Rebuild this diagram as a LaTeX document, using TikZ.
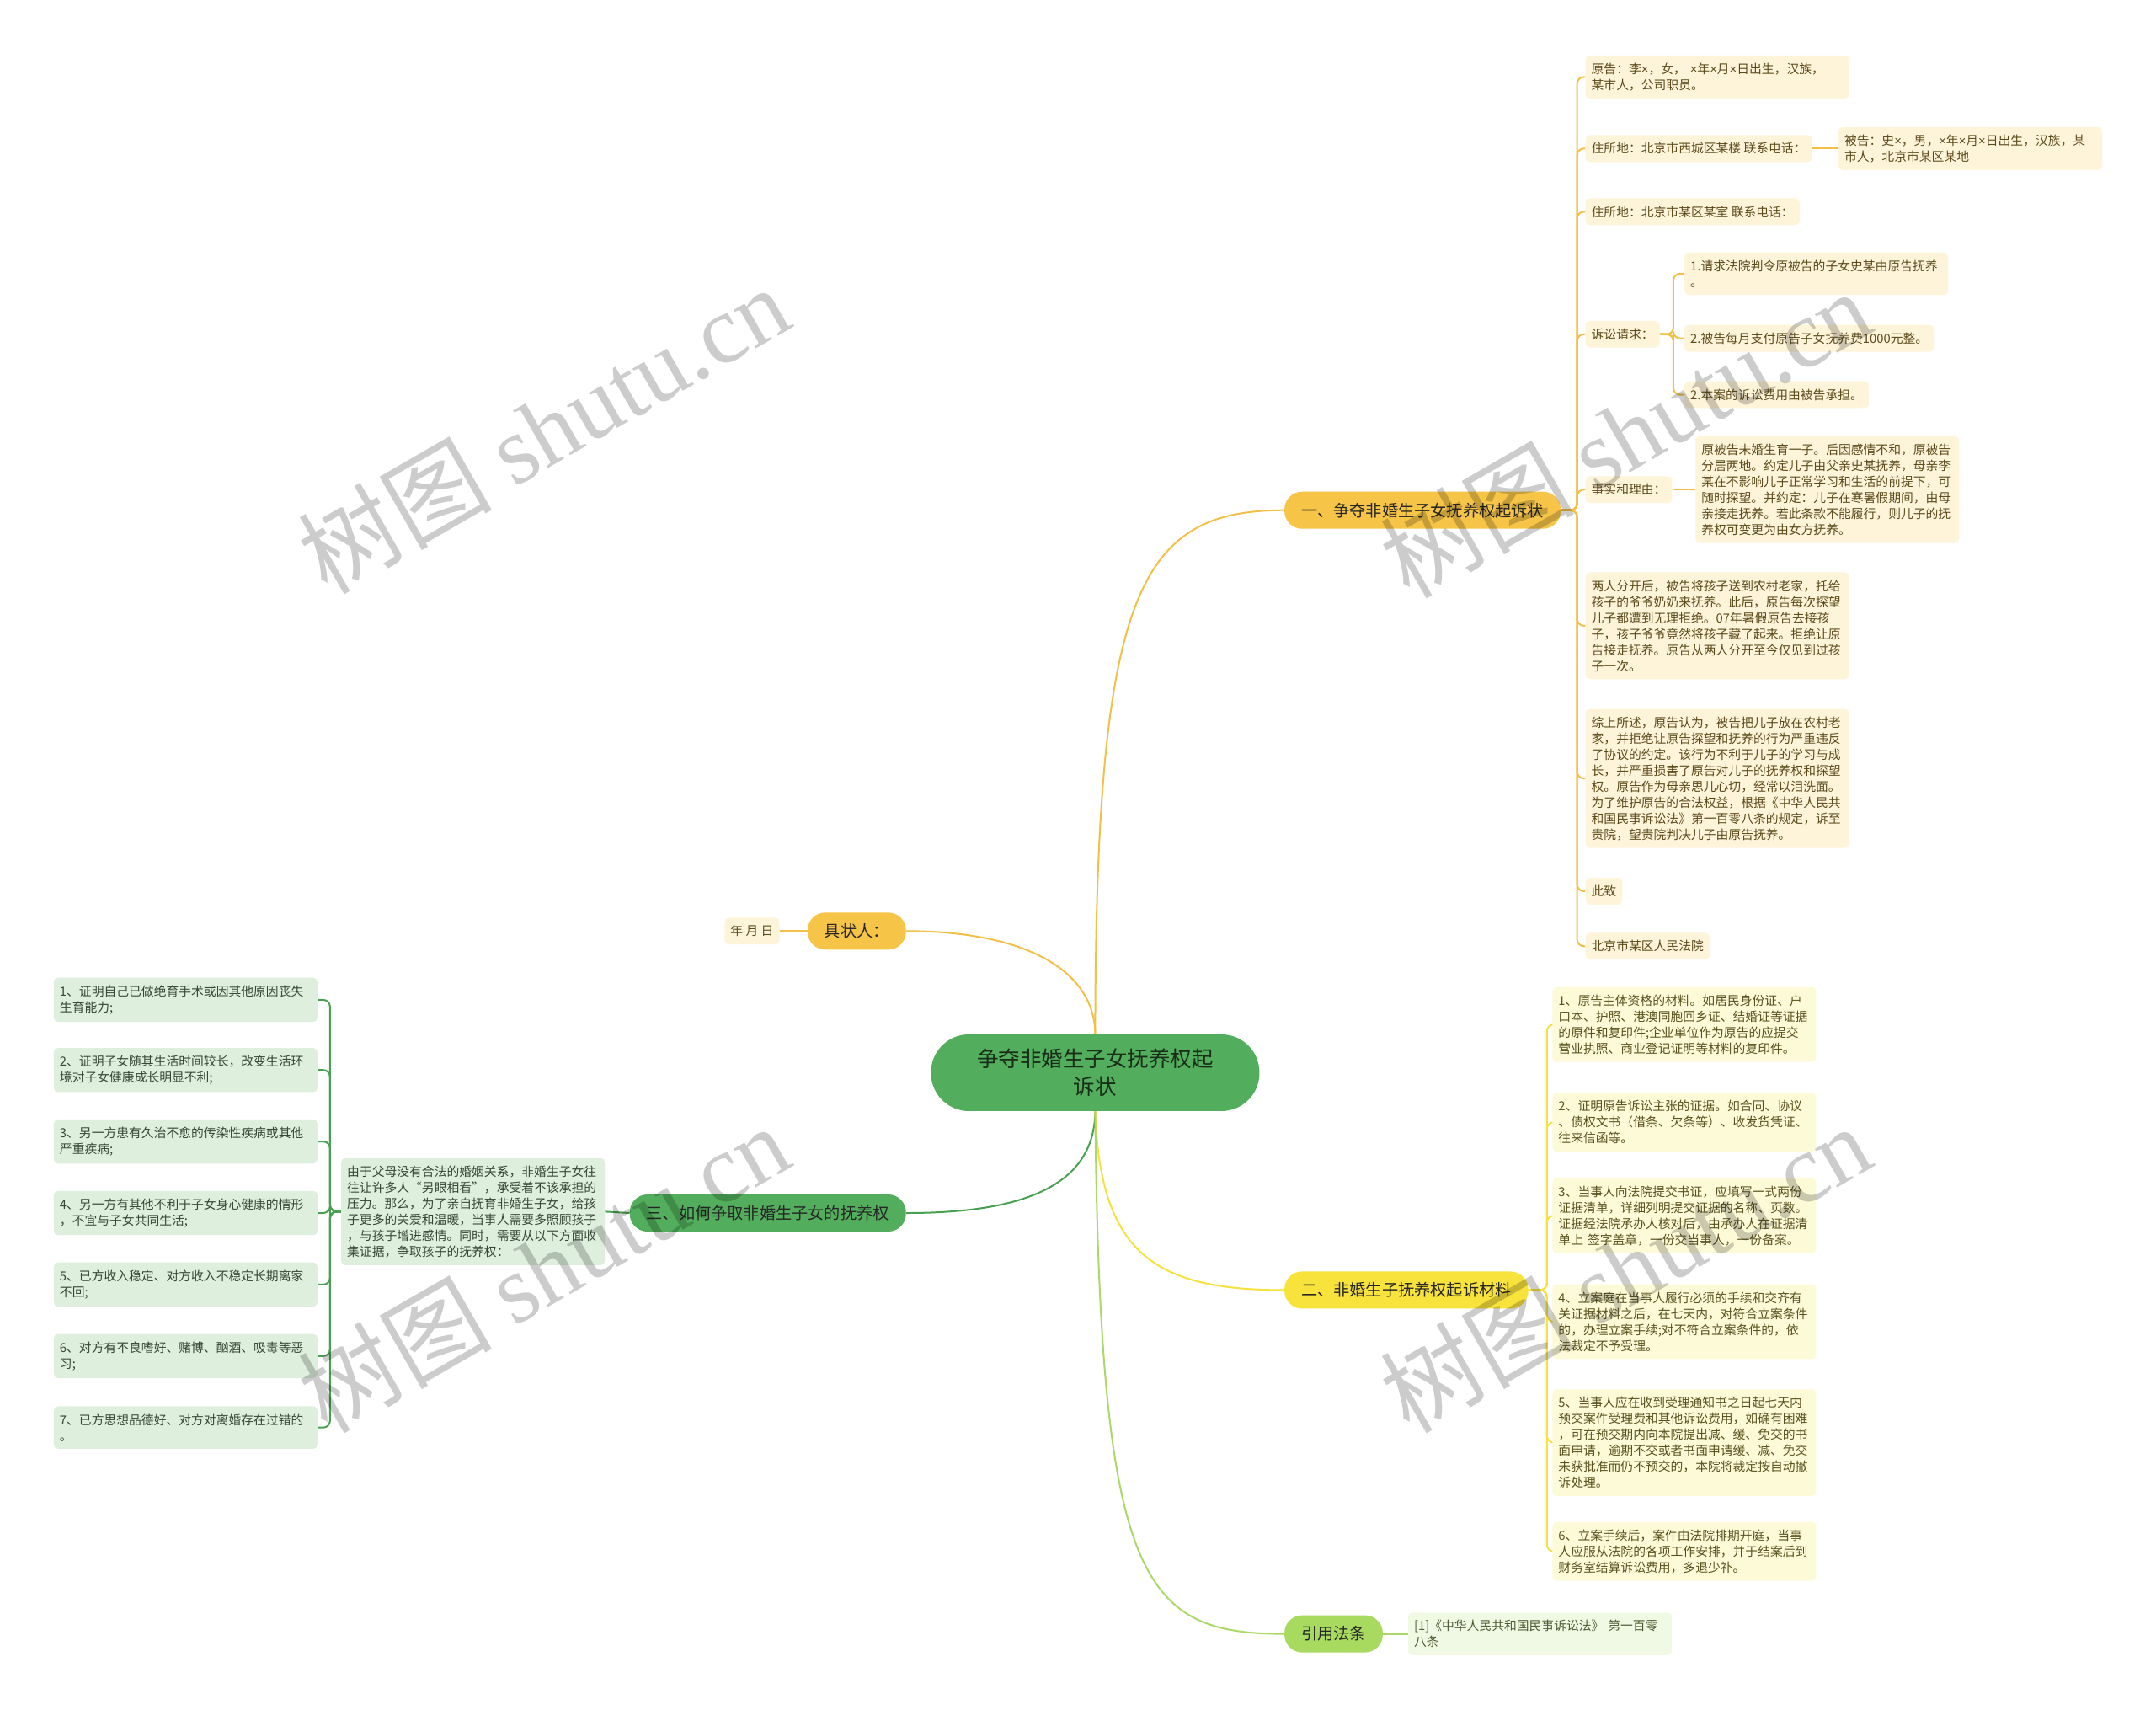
\documentclass[tikz,border=0pt]{standalone}
\usepackage{fontspec}
\setmainfont{Noto Sans CJK SC}
\newfontfamily\wmserif{Liberation Serif}
\newfontfamily\lsans{Liberation Sans}
\newcommand\tms{{\lsans ×}}
\usetikzlibrary{calc}
\pgfdeclarelayer{background}
\pgfdeclarelayer{bgfill}
\pgfsetlayers{bgfill,background,main}
\definecolor{rootg}{RGB}{82,174,92}
\definecolor{gold}{RGB}{246,196,70}
\definecolor{yel}{RGB}{248,226,60}
\definecolor{lgreen}{RGB}{168,218,96}
\definecolor{cream}{RGB}{254,244,218}
\definecolor{paley}{RGB}{253,250,216}
\definecolor{paleg}{RGB}{222,239,222}
\definecolor{palelg}{RGB}{240,249,228}
\definecolor{browntxt}{RGB}{92,74,26}
\definecolor{olivetxt}{RGB}{90,82,30}
\definecolor{greentxt}{RGB}{55,72,55}
\definecolor{lgtxt}{RGB}{75,90,50}
\definecolor{goldline}{RGB}{242,192,72}
\definecolor{yelline}{RGB}{246,226,62}
\definecolor{greenline}{RGB}{72,160,82}
\definecolor{lgline}{RGB}{172,216,104}
\tikzset{
  leaf/.style={rounded corners=5pt, inner xsep=7pt, inner ysep=9pt, align=left,
    font=\fontsize{14.8pt}{19pt}\selectfont},
  wide/.style={leaf, text width=299pt},
  yleaf/.style={fill=cream, text=browntxt},
  y2leaf/.style={fill=paley, text=olivetxt},
  gleaf/.style={fill=paleg, text=greentxt},
  lgleaf/.style={fill=palelg, text=lgtxt},
  branch/.style={rounded corners=21pt, minimum height=44pt, inner xsep=20pt,
    font=\fontsize{19.2pt}{24pt}\selectfont, text=black!85},
  conn/.style={line width=2pt, rounded corners=8pt},
}
\begin{document}
\begin{tikzpicture}[x=1.6327pt, y=-1.6327pt]
\useasboundingbox (0,0) rectangle (1568,1243);
\begin{pgfonlayer}{bgfill}
\fill[white] (0,0) rectangle (1568,1243);
\end{pgfonlayer}

% root
\node[fill=rootg, rounded corners=45pt, minimum width=390pt, minimum height=91pt,
  align=center, font=\fontsize{25.5pt}{33pt}\selectfont, text={rgb,255:red,25;green,45;blue,25}]
  (root) at (796.5,780) {争夺非婚生子女抚养权起\\诉状};

% branches
\node[branch, fill=gold, anchor=west] (b1) at (934,371) {一、争夺非婚生子女抚养权起诉状};
\node[branch, fill=yel, anchor=west] (b2) at (934,938) {二、非婚生子抚养权起诉材料};
\node[branch, fill=lgreen, anchor=west] (b4) at (934,1188) {引用法条};
\node[branch, fill=gold, anchor=east] (jz) at (659,677) {具状人：};
\node[branch, fill=rootg, anchor=east] (b3) at (659,882) {三、如何争取非婚生子女的抚养权};

% branch 1 leaves
\node[wide, yleaf, anchor=west] (a1) at (1153,56) {原告：李\tms，女， \tms 年\tms 月\tms 日出生，汉族，\\某市人，公司职员。};
\node[leaf, yleaf, anchor=west] (a2) at (1153,108) {住所地：北京市西城区某楼 联系电话：};
\node[wide, yleaf, anchor=west] (a2b) at (1337,108) {被告：史\tms，男，\tms 年\tms 月\tms 日出生，汉族，某\\市人，北京市某区某地};
\node[leaf, yleaf, anchor=west] (a3) at (1153,154) {住所地：北京市某区某室 联系电话：};
\node[leaf, yleaf, anchor=west] (a4) at (1153,243) {诉讼请求：};
\node[wide, yleaf, anchor=west] (r1) at (1225,199) {1.请求法院判令原被告的子女史某由原告抚养\\。};
\node[leaf, yleaf, anchor=west] (r2) at (1225,246) {2.被告每月支付原告子女抚养费1000元整。};
\node[leaf, yleaf, anchor=west] (r3) at (1225,287) {2.本案的诉讼费用由被告承担。};
\node[leaf, yleaf, anchor=west] (a5) at (1153,356) {事实和理由：};
\node[wide, yleaf, anchor=west] (f1) at (1233,356) {原被告未婚生育一子。后因感情不和，原被告\\分居两地。约定儿子由父亲史某抚养，母亲李\\某在不影响儿子正常学习和生活的前提下，可\\随时探望。并约定：儿子在寒暑假期间，由母\\亲接走抚养。若此条款不能履行，则儿子的抚\\养权可变更为由女方抚养。};
\node[wide, yleaf, anchor=west] (a6) at (1153,455) {两人分开后，被告将孩子送到农村老家，托给\\孩子的爷爷奶奶来抚养。此后，原告每次探望\\儿子都遭到无理拒绝。07年暑假原告去接孩\\子，孩子爷爷竟然将孩子藏了起来。拒绝让原\\告接走抚养。原告从两人分开至今仅见到过孩\\子一次。};
\node[wide, yleaf, anchor=west] (a7) at (1153,566) {综上所述，原告认为，被告把儿子放在农村老\\家，并拒绝让原告探望和抚养的行为严重违反\\了协议的约定。该行为不利于儿子的学习与成\\长，并严重损害了原告对儿子的抚养权和探望\\权。原告作为母亲思儿心切，经常以泪洗面。\\为了维护原告的合法权益，根据《中华人民共\\和国民事诉讼法》第一百零八条的规定，诉至\\贵院，望贵院判决儿子由原告抚养。};
\node[leaf, yleaf, anchor=west] (a8) at (1153,648) {此致};
\node[leaf, yleaf, anchor=west] (a9) at (1153,688) {北京市某区人民法院};

% branch 2 leaves
\node[wide, y2leaf, anchor=west] (c1) at (1129,745) {1、原告主体资格的材料。如居民身份证、户\\口本、护照、港澳同胞回乡证、结婚证等证据\\的原件和复印件;企业单位作为原告的应提交\\营业执照、商业登记证明等材料的复印件。};
\node[wide, y2leaf, anchor=west] (c2) at (1129,816) {2、证明原告诉讼主张的证据。如合同、协议\\、债权文书（借条、欠条等）、收发货凭证、\\往来信函等。};
\node[wide, y2leaf, anchor=west] (c3) at (1129,884) {3、当事人向法院提交书证，应填写一式两份\\证据清单，详细列明提交证据的名称、页数。\\证据经法院承办人核对后，由承办人在证据清\\单上 签字盖章，一份交当事人，一份备案。};
\node[wide, y2leaf, anchor=west] (c4) at (1129,961) {4、立案庭在当事人履行必须的手续和交齐有\\关证据材料之后，在七天内，对符合立案条件\\的，办理立案手续;对不符合立案条件的，依\\法裁定不予受理。};
\node[wide, y2leaf, anchor=west] (c5) at (1129,1049) {5、当事人应在收到受理通知书之日起七天内\\预交案件受理费和其他诉讼费用，如确有困难\\，可在预交期内向本院提出减、缓、免交的书\\面申请，逾期不交或者书面申请缓、减、免交\\未获批准而仍不预交的，本院将裁定按自动撤\\诉处理。};
\node[wide, y2leaf, anchor=west] (c6) at (1129,1128) {6、立案手续后，案件由法院排期开庭，当事\\人应服从法院的各项工作安排，并于结案后到\\财务室结算诉讼费用，多退少补。};

% citation leaf
\node[wide, lgleaf, anchor=west] (q1) at (1024,1188) {[1]《中华人民共和国民事诉讼法》 第一百零\\八条};

% date leaf
\node[leaf, yleaf, anchor=east] (ymd) at (567,677) {年 月 日};

% branch 3 leaves
\node[wide, gleaf, anchor=east] (p) at (440,881) {由于父母没有合法的婚姻关系，非婚生子女往\\往让许多人“另眼相看”，承受着不该承担的\\压力。那么，为了亲自抚育非婚生子女，给孩\\子更多的关爱和温暖，当事人需要多照顾孩子\\，与孩子增进感情。同时，需要从以下方面收\\集证据，争取孩子的抚养权：};
\node[wide, gleaf, anchor=east] (i1) at (231,727) {1、证明自己已做绝育手术或因其他原因丧失\\生育能力;};
\node[wide, gleaf, anchor=east] (i2) at (231,778) {2、证明子女随其生活时间较长，改变生活环\\境对子女健康成长明显不利;};
\node[wide, gleaf, anchor=east] (i3) at (231,830) {3、另一方患有久治不愈的传染性疾病或其他\\严重疾病;};
\node[wide, gleaf, anchor=east] (i4) at (231,882) {4、另一方有其他不利于子女身心健康的情形\\，不宜与子女共同生活;};
\node[wide, gleaf, anchor=east] (i5) at (231,934) {5、已方收入稳定、对方收入不稳定长期离家\\不回;};
\node[wide, gleaf, anchor=east] (i6) at (231,986) {6、对方有不良嗜好、赌博、酗酒、吸毒等恶\\习;};
\node[wide, gleaf, anchor=east] (i7) at (231,1038) {7、已方思想品德好、对方对离婚存在过错的\\。};

% spine coordinates
\coordinate (s1) at (1147,371);
\coordinate (s4) at (1217,243);
\coordinate (s2) at (1125,938);
\coordinate (s3) at (240,881);

\begin{pgfonlayer}{background}
% root connectors
\draw[line width=2pt, goldline] (root.north) .. controls (797,430) and (828,371) .. (b1.west);
\draw[line width=2pt, goldline] (root.north) .. controls (796,705) and (745,677) .. (jz.east);
\draw[line width=2pt, greenline] (root.south) .. controls (796,862) and (745,882) .. (b3.east);
\draw[line width=2pt, yelline] (root.south) .. controls (800,912) and (840,938) .. (b2.west);
\draw[line width=2pt, lgline] (root.south) .. controls (800,1150) and (830,1188) .. (b4.west);
% branch 1
\foreach \n in {a1,a2,a3,a4,a5,a6,a7,a8,a9}
  \draw[conn, goldline] (b1.east) -- (s1) |- (\n.west);
\foreach \n in {r1,r2,r3}
  \draw[conn, goldline] (a4.east) -- (s4) |- (\n.west);
\draw[conn, goldline] (a2.east) -- (a2b.west);
\draw[conn, goldline] (a5.east) -- (f1.west);
% branch 2
\foreach \n in {c1,c2,c3,c4,c5,c6}
  \draw[conn, yelline] (b2.east) -- (s2) |- (\n.west);
% citation
\draw[conn, lgline] (b4.east) -- (q1.west);
% date
\draw[conn, goldline] (jz.west) -- (ymd.east);
% branch 3
\draw[conn, greenline] (b3.west) -- (p.east);
\foreach \n in {i1,i2,i3,i4,i5,i6,i7}
  \draw[conn, greenline] (p.west) -- (s3) |- (\n.east);
\end{pgfonlayer}

% watermarks
\foreach \x/\y/\nm in {395/312/wm1, 1182/315/wm2, 395/922/wm3, 1182/922/wm4}
  \node[rotate=30, text=black, text opacity=0.2, font=\fontsize{115pt}{115pt}\selectfont]
    (\nm) at (\x,\y) {树图 {\wmserif shutu.cn}};
\end{tikzpicture}
\end{document}
